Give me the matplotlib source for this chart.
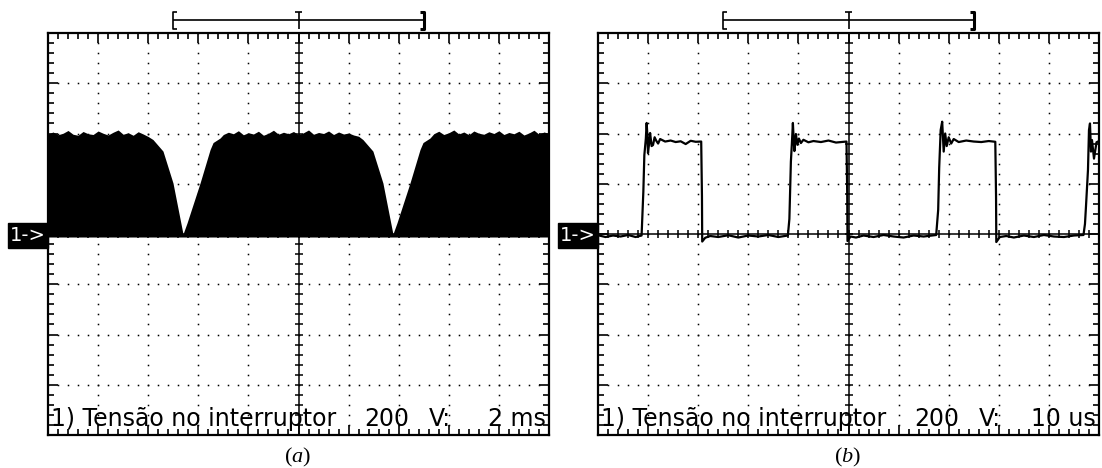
import numpy as np
import matplotlib.pyplot as plt
from matplotlib.ticker import MultipleLocator
from matplotlib.patches import Rectangle

plt.rcParams['font.family'] = 'DejaVu Sans'
plt.rcParams['mathtext.fontset'] = 'custom'
plt.rcParams['mathtext.rm'] = 'Liberation Serif'
plt.rcParams['mathtext.it'] = 'Liberation Serif:italic'

# (a) envoltoria da tensao no interruptor (ms, V)
env_t = [0.0, 0.2, 0.4, 0.6, 0.8, 1.0, 1.2, 1.4, 1.6, 1.8, 2.0, 2.2, 2.4, 2.6, 2.8, 3.0,
         3.2, 3.4, 3.6, 3.8, 4.0,
         4.19, 4.59, 4.99, 5.39, 5.55, 6.07, 6.47, 6.59, 6.87,
         7.0, 7.2, 7.4, 7.6, 7.8, 8.0, 8.2, 8.4, 8.6, 8.8, 9.0, 9.2, 9.4, 9.6, 9.8, 10.0,
         10.2, 10.4, 10.6, 10.8, 11.0, 11.2, 11.4, 11.6, 11.8, 12.0, 12.2, 12.4,
         12.57, 12.97, 13.37, 13.77, 13.93, 14.45, 14.85, 14.97, 15.25,
         15.4, 15.6, 15.8, 16.0, 16.2, 16.4, 16.6, 16.8, 17.0, 17.2, 17.4, 17.6, 17.8, 18.0,
         18.2, 18.4, 18.6, 18.8, 19.0, 19.2, 19.4, 19.6, 19.8, 20.0]
env_v = [398, 406, 395, 401, 412, 397, 393, 408, 399, 396, 410, 401, 394, 405, 414, 397,
         403, 393, 407, 398, 388,
         376, 330, 203, 0, 44, 203, 336, 364, 382,
         396, 405, 399, 411, 395, 403, 398, 409, 393, 401, 413, 397, 405, 399, 408, 395,
         403, 414, 397, 404, 400, 410, 396, 406, 398, 402, 394, 389,
         376, 330, 203, 0, 44, 203, 336, 364, 382,
         399, 409, 396, 403, 414, 398, 406, 395, 410, 401, 397, 407, 400, 411, 396,
         404, 399, 409, 394, 402, 413, 397, 406, 400]

# (b) tensao no interruptor (us, V)
sw_t = [0, 1.5, 3, 4.5, 6, 7.5, 8.7,
        9.05, 9.25, 9.55, 9.71, 9.85, 9.98, 10.2, 10.4, 10.7, 10.98, 11.3, 11.6, 12.0, 12.4,
        13.4, 14.5, 15.5, 16.5, 17.5, 18.5, 19.5, 20.6,
        20.75, 20.8, 21.4, 22.4,
        24, 26, 28, 30, 32, 34, 36, 37.9,
        38.2, 38.3, 38.5, 38.7, 38.9, 39.05, 39.2, 39.5, 39.8, 40.1, 40.5, 41, 42,
        43, 44.5, 46, 47.5, 49.6,
        49.75, 49.8, 50.4, 51.5,
        53, 55, 57, 59, 61, 63, 65, 67.5,
        67.9, 68.1, 68.4, 68.7, 69.0, 69.3, 69.6, 70, 70.5, 71, 72,
        73.5, 75, 76.5, 78, 79.3,
        79.45, 79.5, 80.2, 81.5,
        83, 85, 87, 89, 91, 93, 95, 96.9,
        97.2, 97.4, 97.8, 98.0, 98.2, 98.4, 98.6, 99.0, 99.5, 100]
sw_v = [-5, -12, -6, -10, -4, -12, -6,
        168, 314, 380, 442, 395, 322, 360, 402, 350, 354, 385, 372, 360, 378,
        368, 372, 366, 369, 358, 371, 367, 368,
        150, -30, -15, -8,
        -12, -5, -14, -6, -10, -4, -12, -6,
        60, 135, 288, 360, 442, 380, 330, 398, 355, 380, 362, 375, 365,
        370, 366, 372, 364, 368,
        150, -28, -10, -14,
        -6, -12, -4, -10, -14, -6, -10, -4,
        96, 263, 414, 447, 328, 400, 350, 385, 360, 378, 366,
        372, 368, 366, 370, 367,
        150, -32, -12, -8,
        -14, -6, -12, -4, -10, -12, -6, -4,
        40, 109, 255, 414, 440, 328, 374, 300, 365, 370]

W, H = 1102, 468
fig = plt.figure(figsize=(W / 100, H / 100), dpi=100)


def osc(x0, xdiv, escala, rotulo):
    ax = fig.add_axes([x0 / W, (H - 435) / H, 501 / W, 402 / H])
    ax.set_xlim(0, 10 * xdiv)
    ax.set_ylim(-800, 800)
    ax.xaxis.set_major_locator(MultipleLocator(xdiv))
    ax.xaxis.set_minor_locator(MultipleLocator(xdiv / 5))
    ax.yaxis.set_major_locator(MultipleLocator(200))
    ax.yaxis.set_minor_locator(MultipleLocator(40))
    ax.tick_params(which='both', direction='in', top=True, right=True,
                   labelbottom=False, labelleft=False, width=1.2, color='black')
    ax.tick_params(which='major', length=7)
    ax.tick_params(which='minor', length=4)
    for s in ax.spines.values():
        s.set_linewidth(1.6)

    # grade pontilhada
    ys = np.arange(-800, 801, 40)
    xs = np.arange(0, 10 * xdiv + 1e-9, xdiv / 5)
    for k in range(1, 10):
        if k != 5:
            ax.plot(np.full(ys.shape, k * xdiv), ys, 's', ms=1.1, mew=0,
                    color='black', zorder=1)
    for k in [-600, -400, -200, 200, 400, 600]:
        ax.plot(xs, np.full(xs.shape, k), 's', ms=1.1, mew=0, color='black', zorder=1)

    # eixos centrais
    ax.axhline(0, color='black', lw=1.1, zorder=2)
    ax.axvline(5 * xdiv, color='black', lw=1.1, zorder=2)
    ax.plot(xs, np.zeros(xs.shape), '|', ms=6, mew=1.1, color='black', zorder=2)
    ax.plot(np.full(ys.shape, 5 * xdiv), ys, '_', ms=6, mew=1.1, color='black', zorder=2)

    # cursor de tempo no topo
    a, b, c, d = 2.5 * xdiv, 5 * xdiv, 7.5 * xdiv, 0.07 * xdiv
    kw = dict(color='black', clip_on=False, solid_capstyle='butt')
    ax.plot([a, c], [852, 852], lw=1.2, **kw)
    ax.plot([a + d, a, a, a + d], [884, 884, 814, 814], lw=1.2, **kw)
    ax.plot([c - d, c, c, c - d], [884, 884, 814, 814], lw=2.2, **kw)
    ax.plot([b - d, b + d], [884, 884], lw=1.2, **kw)
    ax.plot([b, b], [884, 814], lw=1.2, **kw)

    # marcador do canal
    fig.add_artist(Rectangle(((x0 - 40) / W, (H - 248) / H), 40 / W, 25 / H,
                             transform=fig.transFigure, color='black'))
    fig.text((x0 - 20) / W, (H - 235.5) / H, '1->', color='white', fontsize=14,
             ha='center', va='center')

    # legenda inferior
    yb = (H - 426) / H
    fig.text((x0 + 3) / W, yb, '1) Tensão no interruptor', fontsize=17, va='baseline')
    fig.text((x0 + 316) / W, yb, '200', fontsize=17, va='baseline')
    fig.text((x0 + 381) / W, yb, 'V:', fontsize=17, va='baseline')
    fig.text((x0 + 498) / W, yb, escala, fontsize=17, va='baseline', ha='right')
    fig.text((x0 + 250) / W, (H - 462) / H, r'$(\mathit{' + rotulo + '})$',
             fontsize=16, ha='center', va='baseline')
    return ax


ax1 = osc(48, 2, '2 ms', 'a')
ax1.fill_between(env_t, -12, env_v, color='black', lw=0, zorder=3)

ax2 = osc(598, 10, '10 us', 'b')
ax2.plot(sw_t, sw_v, color='black', lw=1.6, zorder=3)

fig.savefig('out.png', dpi=100)
